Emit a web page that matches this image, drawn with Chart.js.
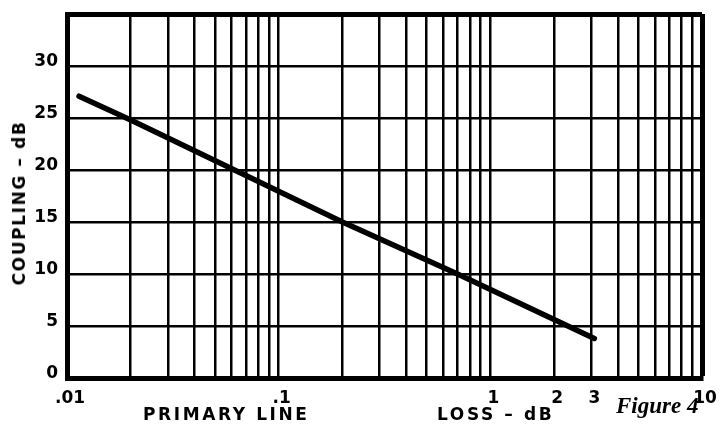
<!DOCTYPE html>
<html>
<head>
<meta charset="utf-8">
<script src="https://cdn.jsdelivr.net/npm/chart.js@4.4.0/dist/chart.umd.min.js"></script>
<style>
  body { margin: 0; background: #fff; }
  #wrap { position: relative; width: 722px; height: 434px; }
  .lbl { position: absolute; font-family: "DejaVu Sans", sans-serif; font-weight: bold; color: #000; white-space: nowrap; }
  #ytitle { font-size: 17px; letter-spacing: 1.6px; left: 19px; top: 203px; transform: translate(-50%, -50%) rotate(-90deg); }
  #xt1 { font-size: 17px; letter-spacing: 2.6px; left: 143px; top: 404px; }
  #xt2 { font-size: 17px; letter-spacing: 2.6px; left: 437px; top: 404px; }
  #fig { position: absolute; font-family: "Liberation Serif", serif; font-weight: bold; font-style: italic; font-size: 23px; left: 616px; top: 393px; }
</style>
</head>
<body>
<div id="wrap">
  <canvas id="myChart" width="722" height="434"></canvas>
  <div class="lbl" id="ytitle">COUPLING – dB</div>
  <div class="lbl" id="xt1">PRIMARY LINE</div>
  <div class="lbl" id="xt2">LOSS – dB</div>
  <div id="fig">Figure 4</div>
</div>
<script>
// valores
const perdida = [0.0114, 0.02, 0.2, 0.7, 3.1];
const acoplamiento = [27.1, 24.8, 15, 10, 3.8];

// lineas de la grilla logaritmica y etiquetas
const gridX = [0.01, 0.02, 0.03, 0.04, 0.05, 0.06, 0.07, 0.08, 0.09,
               0.1, 0.2, 0.3, 0.4, 0.5, 0.6, 0.7, 0.8, 0.9,
               1, 2, 3, 4, 5, 6, 7, 8, 9, 10];
const etiquetasX = { 0.01: '.01', 0.1: '.1', 1: '1', 2: '2', 3: '3', 10: '10' };
const gridY = [0, 5, 10, 15, 20, 25, 30, 35];
const etiquetasY = ['0', '5', '10', '15', '20', '25', '30', ''];

const puntos = perdida.map(function(p, i) {
    return { x: p, y: acoplamiento[i] };
});

const fuente = { family: 'DejaVu Sans', weight: 'bold', size: 17, lineHeight: 0.5 };

var ctx = document.querySelector('#myChart');
var myChart = new Chart(ctx, {
    type: 'scatter',
    data: {
        datasets: [{
            data: puntos,
            showLine: true,
            borderColor: '#000',
            borderWidth: 5.5,
            borderCapStyle: 'round',
            pointRadius: 0,
            tension: 0
        }]
    },
    options: {
        responsive: false,
        animation: false,
        layout: { padding: { top: 14, right: 20, left: 0, bottom: 0 } },
        plugins: { legend: { display: false }, tooltip: { enabled: false } },
        scales: {
            x: {
                type: 'logarithmic',
                min: 0.01,
                max: 10,
                afterBuildTicks: function(scale) {
                    scale.ticks = gridX.map(function(v) { return { value: v }; });
                },
                afterFit: function(scale) {
                    scale.height = 56;
                    scale.paddingLeft = 0;
                    scale.paddingRight = 0;
                },
                grid: {
                    color: '#000',
                    lineWidth: function(c) { return c.tick && c.tick.value === 10 ? 5 : 2.5; },
                    drawTicks: false
                },
                border: { color: '#000', width: 5 },
                ticks: {
                    autoSkip: false,
                    maxRotation: 0,
                    padding: 16,
                    labelOffset: 3,
                    color: '#000',
                    font: fuente,
                    callback: function(v) { return etiquetasX[v] || ''; }
                }
            },
            y: {
                min: 0,
                max: 35,
                afterBuildTicks: function(scale) {
                    scale.ticks = gridY.map(function(v) { return { value: v }; });
                },
                afterFit: function(scale) { scale.width = 67; },
                grid: {
                    color: '#000',
                    lineWidth: function(c) { return c.tick && c.tick.value === 35 ? 5 : 2.5; },
                    drawTicks: false
                },
                border: { color: '#000', width: 5 },
                ticks: {
                    padding: 9,
                    labelOffset: -4,
                    color: '#000',
                    font: fuente,
                    callback: function(v) { return etiquetasY[gridY.indexOf(v)]; }
                }
            }
        }
    }
});
</script>
</body>
</html>
